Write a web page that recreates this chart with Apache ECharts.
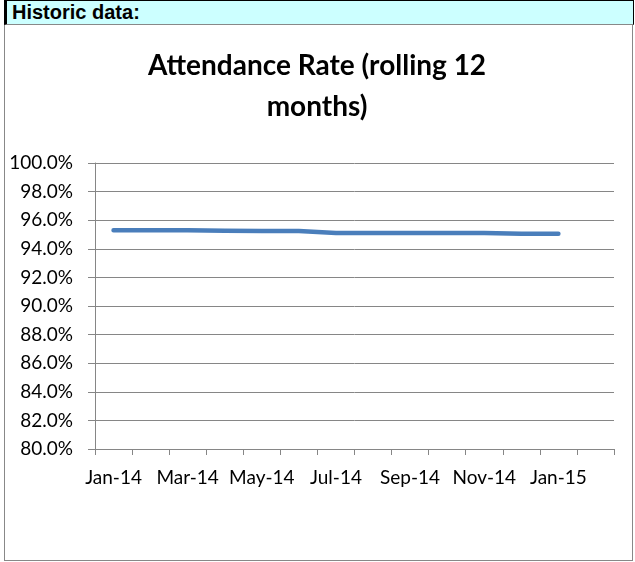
<!DOCTYPE html>
<html>
<head>
<meta charset="utf-8">
<script src="https://cdn.jsdelivr.net/npm/echarts@6/dist/echarts.min.js"></script>
<style>
  html, body { margin: 0; padding: 0; background: #fff; }
  #wrap { position: relative; width: 635px; height: 562px; overflow: hidden; }
  #header { position: absolute; left: 4px; top: 0; width: 630px; height: 25px;
    background: #ccffff; border-top: 1px solid #000; border-left: 3px solid #000; border-right: 1px solid #000;
    border-bottom: 1px solid #888; box-sizing: border-box;
    font-family: "Liberation Sans", Arial, sans-serif; font-weight: bold; font-size: 20px; color: #000; line-height: 23px; padding-left: 5px; }
  #box { position: absolute; left: 4px; top: 25px; width: 629px; height: 536px; border: 1px solid #888; border-top: none; box-sizing: border-box; }
  #chart { position: absolute; left: 0; top: 0; width: 635px; height: 562px; }
</style>
</head>
<body>
<div id="wrap">
  <div id="header">Historic data:</div>
  <div id="box"></div>
  <div id="chart"></div>
</div>
<script>
const titleText = 'Attendance Rate (rolling 12\nmonths)';
const categories = ['Jan-14','Feb-14','Mar-14','Apr-14','May-14','Jun-14','Jul-14','Aug-14','Sep-14','Oct-14','Nov-14','Dec-14','Jan-15','Feb-15'];
const attendance = [95.3, 95.3, 95.3, 95.27, 95.25, 95.25, 95.1, 95.1, 95.1, 95.1, 95.1, 95.06, 95.05];
const yMin = 80, yMax = 100, yStep = 2;

const chart = echarts.init(document.getElementById('chart'), null, { renderer: 'canvas' });
const font = 'Lato, "Open Sans", sans-serif';
chart.setOption({
  backgroundColor: 'transparent',
  animation: false,
  title: {
    text: titleText,
    left: 312, top: 40, textAlign: 'center',
    textStyle: { fontFamily: font, fontWeight: 'bold', fontSize: 28, lineHeight: 41, color: '#000' }
  },
  grid: { left: 95, right: 21, top: 163, bottom: 113, containLabel: false },
  xAxis: {
    type: 'category',
    data: categories,
    boundaryGap: true,
    axisLine: { show: true, lineStyle: { color: '#868686', width: 1 } },
    axisTick: { show: true, interval: 0, length: 6, lineStyle: { color: '#868686' } },
    axisLabel: { interval: 1, color: '#000', fontFamily: font, fontSize: 19, margin: 19 },
    splitLine: { show: false }
  },
  yAxis: {
    type: 'value',
    min: yMin, max: yMax, interval: yStep,
    axisLine: { show: true, lineStyle: { color: '#868686', width: 1 } },
    axisTick: { show: true, length: 7, lineStyle: { color: '#868686' } },
    axisLabel: { color: '#000', fontFamily: font, fontSize: 19, margin: 22,
      formatter: v => v.toFixed(1) + '%' },
    splitLine: { show: true, lineStyle: { color: '#868686', width: 1 } }
  },
  series: [{
    type: 'line',
    data: attendance,
    showSymbol: false,
    symbol: 'none',
    lineStyle: { color: '#4a7ebb', width: 4.5, cap: 'round', join: 'round' },
    itemStyle: { color: '#4a7ebb' }
  }]
});
</script>
</body>
</html>
